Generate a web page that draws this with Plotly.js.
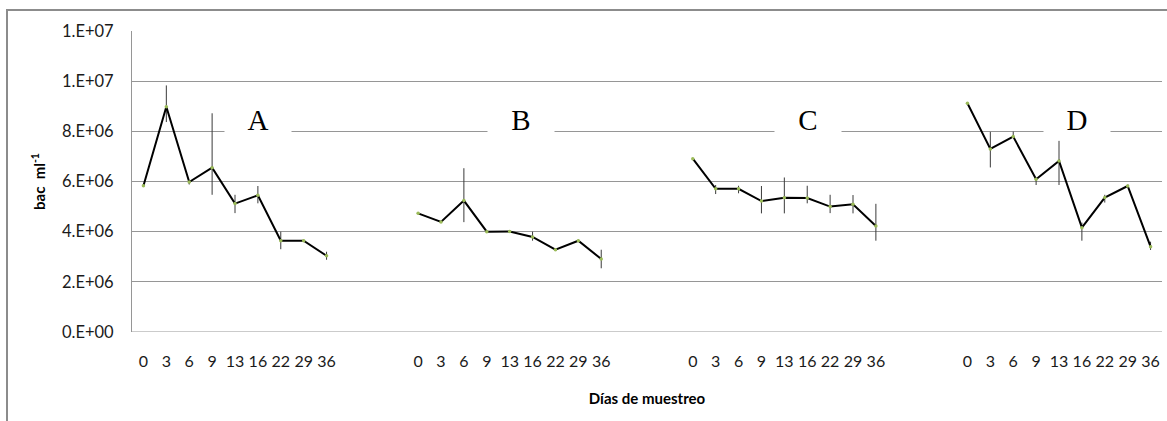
<!DOCTYPE html>
<html>
<head>
<meta charset="utf-8">
<script src="https://cdn.plot.ly/plotly-3.0.1.min.js"></script>
<style>
  html, body { margin: 0; padding: 0; background: #fff; }
  #wrap { position: relative; width: 1167px; height: 421px; overflow: hidden; }
  #frame { position: absolute; left: 6px; top: 9px; width: 1300px; height: 500px;
           border-left: 2px solid #8c8c8c; border-top: 2px solid #8c8c8c; pointer-events: none; }
  #chart { position: absolute; left: 0; top: 0; width: 1167px; height: 421px; }
</style>
</head>
<body>
<div id="wrap">
  <div id="chart"></div>
  <div id="frame"></div>
</div>
<script>
// ---- data ----
const days = ["0", "3", "6", "9", "13", "16", "22", "29", "36"];
const groupNames = ["A", "B", "C", "D"];

const valuesA = [5.83e6, 8.98e6, 5.98e6, 6.55e6, 5.12e6, 5.45e6, 3.64e6, 3.64e6, 3.04e6];
const errUpA  = [0, 0.85e6, 0.05e6, 2.17e6, 0.35e6, 0.37e6, 0.36e6, 0, 0.16e6];
const errDnA  = [0, 0.61e6, 0.10e6, 1.08e6, 0.38e6, 0.32e6, 0.34e6, 0, 0.16e6];

const valuesB = [4.73e6, 4.39e6, 5.24e6, 4.00e6, 4.01e6, 3.79e6, 3.28e6, 3.64e6, 2.91e6];
const errUpB  = [0, 0, 1.29e6, 0, 0, 0.21e6, 0, 0, 0.37e6];
const errDnB  = [0, 0, 0.86e6, 0, 0, 0.15e6, 0, 0, 0.37e6];

const valuesC = [6.91e6, 5.71e6, 5.71e6, 5.22e6, 5.35e6, 5.34e6, 5.00e6, 5.09e6, 4.23e6];
const errUpC  = [0, 0.15e6, 0.12e6, 0.60e6, 0.81e6, 0.49e6, 0.47e6, 0.37e6, 0.88e6];
const errDnC  = [0, 0.21e6, 0.18e6, 0.49e6, 0.62e6, 0.21e6, 0.26e6, 0.36e6, 0.59e6];

const valuesD = [9.12e6, 7.30e6, 7.79e6, 6.09e6, 6.82e6, 4.16e6, 5.36e6, 5.82e6, 3.40e6];
const errUpD  = [0, 0.68e6, 0.20e6, 0.05e6, 0.80e6, 0.20e6, 0.11e6, 0.05e6, 0.20e6];
const errDnD  = [0, 0.74e6, 0.05e6, 0.23e6, 0.96e6, 0.52e6, 0.20e6, 0.05e6, 0.13e6];

const yTickVals = [0, 2e6, 4e6, 6e6, 8e6, 1e7, 1.2e7];
const yTickText = ["0.E+00", "2.E+06", "4.E+06", "6.E+06", "8.E+06", "1.E+07", "1.E+07"];

// ---- build chart ----
const series = [
  [valuesA, errUpA, errDnA],
  [valuesB, errUpB, errDnB],
  [valuesC, errUpC, errDnC],
  [valuesD, errUpD, errDnD]
];
const slotsPerGroup = 12; // 9 sampling days + 3 empty category slots
const traces = [];
const tickVals = [], tickText = [];
series.forEach(function (s, g) {
  const xs = days.map(function (d, i) { return g * slotsPerGroup + i; });
  xs.forEach(function (x, i) { tickVals.push(x); tickText.push(days[i]); });
  traces.push({
    type: "scatter", mode: "lines+markers",
    x: xs, y: s[0],
    line: { color: "#000000", width: 2 },
    marker: { color: "#9bbb59", size: 3.5 },
    error_y: { type: "data", symmetric: false, array: s[1], arrayminus: s[2],
               color: "#3a3a3a", thickness: 1, width: 0 },
    showlegend: false, hoverinfo: "skip"
  });
});

const letterX = [5.02, 16.49, 29.04, 40.77];
const annotations = groupNames.map(function (n, g) {
  return {
    x: letterX[g], y: 8.45e6, xref: "x", yref: "y",
    text: n, showarrow: false,
    font: { family: "Liberation Serif, Times New Roman, serif", size: 29, color: "#000" },
    bgcolor: "#ffffff", width: 60, borderpad: 3
  };
});

const layout = {
  width: 1167, height: 421, autosize: false,
  margin: { l: 132, r: 5, t: 31, b: 89 },
  paper_bgcolor: "rgba(0,0,0,0)", plot_bgcolor: "#ffffff",
  font: { family: "Lato, Open Sans, sans-serif", color: "#1a1a1a", size: 15 },
  xaxis: {
    range: [-0.5, 4 * slotsPerGroup - 3 - 0.5],
    tickmode: "array", tickvals: tickVals, ticktext: tickText,
    showgrid: false, zeroline: false, showline: false,
    ticks: "", ticklabelstandoff: 18,
    tickfont: { size: 16, family: "Lato, Open Sans, sans-serif" },
    title: { text: "Días de muestreo", standoff: 24,
             font: { size: 15, family: "Lato, Open Sans, sans-serif", weight: "bold", color: "#000" } }
  },
  yaxis: {
    range: [0, 1.2e7],
    tickmode: "array", tickvals: yTickVals, ticktext: yTickText,
    showgrid: true, gridcolor: "#969696", gridwidth: 1,
    zeroline: false, showline: true, linecolor: "#969696", linewidth: 1,
    ticks: "", ticklabelstandoff: 14,
    tickfont: { size: 16.5, family: "Lato, Open Sans, sans-serif" },
    title: { text: "bac  ml<sup>-1</sup>", standoff: 12,
             font: { size: 15, family: "Lato, Open Sans, sans-serif", weight: "bold", color: "#000" } }
  },
  shapes: [{ type: "line", xref: "paper", yref: "y", x0: 0, x1: 1, y0: 0, y1: 0,
             line: { color: "#969696", width: 1 } }],
  annotations: annotations
};

Plotly.newPlot("chart", traces, layout, { staticPlot: true, displayModeBar: false });
</script>
</body>
</html>
